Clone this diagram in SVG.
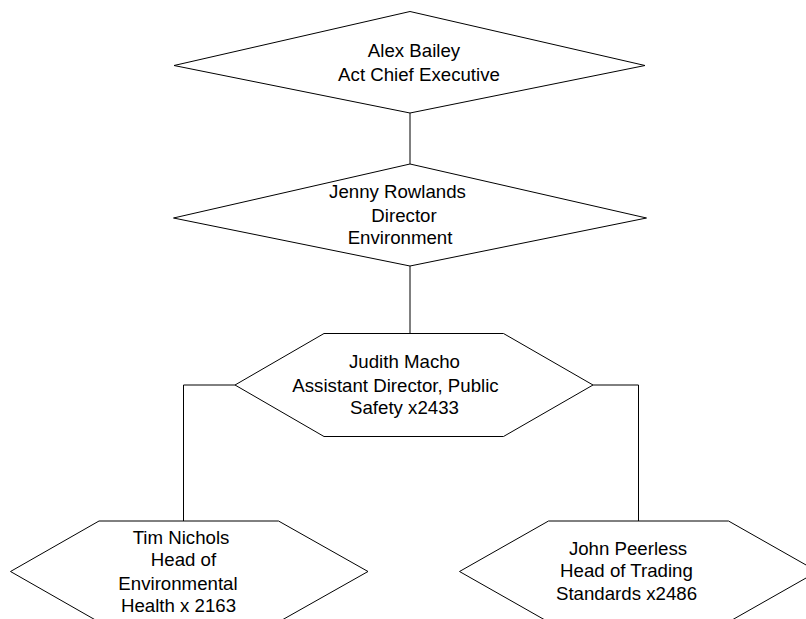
<svg xmlns="http://www.w3.org/2000/svg" width="806" height="619" viewBox="0 0 806 619">
<style>
.shape{fill:#fff;stroke:#000;stroke-width:1}
.conn{fill:none;stroke:#000;stroke-width:1}
text{font-family:"Liberation Sans",Arial,sans-serif;font-size:18.67px;fill:#000;text-anchor:middle}
</style>
<rect width="806" height="619" fill="#fff"/>
<g id="connectors">
<path class="conn" d="M410,113 V164"/>
<path class="conn" d="M410,266 V333.5"/>
<path class="conn" d="M235,385 H183.5 V521"/>
<path class="conn" d="M593,385 H638.5 V521"/>
</g>
<g id="node-alex">
<polygon class="shape" points="410,11.5 645,65.5 410,113 174,65.5"/>
<text x="414" y="57">Alex Bailey</text>
<text x="419" y="81">Act Chief Executive</text>
</g>
<g id="node-jenny">
<polygon class="shape" points="410,164 646.5,218 410,266 173.5,218"/>
<text x="397.5" y="198">Jenny Rowlands</text>
<text x="404" y="222">Director</text>
<text x="400" y="243.5">Environment</text>
</g>
<g id="node-judith">
<polygon class="shape" points="324,333.5 503.5,333.5 593,385 503.5,436.5 324,436.5 235,385"/>
<text x="404.5" y="367.5">Judith Macho</text>
<text x="395.5" y="391.5">Assistant Director, Public</text>
<text x="404.5" y="413.5">Safety x2433</text>
</g>
<g id="node-tim">
<polygon class="shape" points="99,521 278.5,521 368,571.5 278.5,622 99,622 10.5,571.5"/>
<text x="181" y="543.5">Tim Nichols</text>
<text x="183.5" y="565.5">Head of</text>
<text x="178" y="590">Environmental</text>
<text x="178.5" y="611.5">Health x 2163</text>
</g>
<g id="node-john">
<polygon class="shape" points="548.5,521 728.5,521 817.5,571.5 728.5,622 548.5,622 459.5,571.5"/>
<text x="628" y="555">John Peerless</text>
<text x="626.5" y="577">Head of Trading</text>
<text x="626.5" y="600">Standards x2486</text>
</g>
</svg>
